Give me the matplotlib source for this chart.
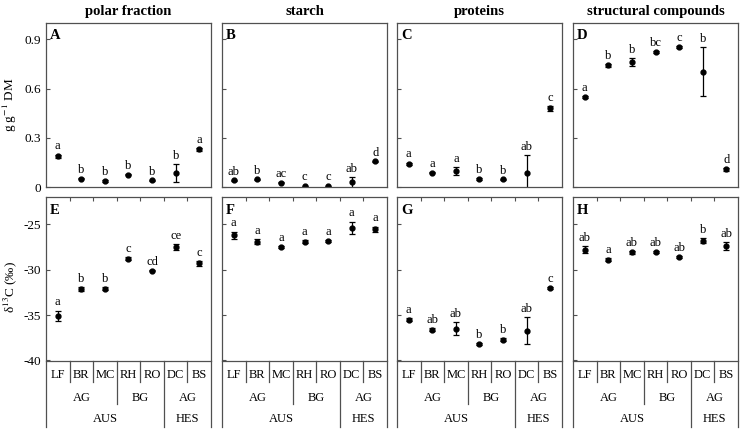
"""Eight panels: concentrations and d13C of compound fractions per organ."""

import matplotlib
matplotlib.use('Agg')
import matplotlib.pyplot as plt

plt.rcParams['font.family'] = ['Liberation Serif', 'DejaVu Serif']
plt.rcParams['mathtext.fontset'] = 'stix'

# organs on the x axis and their grouping rows
organs = ['LF', 'BR', 'MC', 'RH', 'RO', 'DC', 'BS']
row2_labels = ['AG', 'BG', 'AG']
row2_centres = [1, 3.5, 5.5]
row3_labels = ['AUS', 'HES']
row3_centres = [2, 5.5]

titles = ['polar fraction', 'starch', 'proteins', 'structural compounds']
panel_tags = ['A', 'B', 'C', 'D', 'E', 'F', 'G', 'H']

# top row: g g-1 DM
polar_mean = [0.188, 0.051, 0.037, 0.076, 0.041, 0.086, 0.229]
polar_err = [0.010, 0.004, 0.004, 0.005, 0.003, 0.055, 0.008]
polar_let = ['a', 'b', 'b', 'b', 'b', 'b', 'a']

starch_mean = [0.041, 0.047, 0.027, 0.006, 0.006, 0.028, 0.156]
starch_err = [0.004, 0.004, 0.004, 0.003, 0.003, 0.032, 0.004]
starch_let = ['ab', 'b', 'ac', 'c', 'c', 'ab', 'd']

protein_mean = [0.143, 0.088, 0.098, 0.049, 0.047, 0.088, 0.481]
protein_err = [0.006, 0.004, 0.025, 0.004, 0.003, 0.106, 0.015]
protein_let = ['a', 'a', 'a', 'b', 'b', 'ab', 'c']

struct_mean = [0.548, 0.742, 0.761, 0.824, 0.853, 0.702, 0.107]
struct_err = [0.008, 0.008, 0.024, 0.006, 0.006, 0.150, 0.008]
struct_let = ['a', 'b', 'b', 'bc', 'c', 'b', 'd']

# bottom row: d13C (permil)
polar_d13c = [-35.1, -32.1, -32.1, -28.8, -30.1, -27.5, -29.3]
polar_d13c_err = [0.6, 0.2, 0.15, 0.15, 0.1, 0.3, 0.25]
polar_d13c_let = ['a', 'b', 'b', 'c', 'cd', 'ce', 'c']

starch_d13c = [-26.2, -26.9, -27.5, -26.9, -26.8, -25.4, -25.55]
starch_d13c_err = [0.4, 0.3, 0.15, 0.15, 0.1, 0.7, 0.3]
starch_d13c_let = ['a', 'a', 'a', 'a', 'a', 'a', 'a']

protein_d13c = [-35.5, -36.6, -36.5, -38.2, -37.7, -36.7, -32.0]
protein_d13c_err = [0.2, 0.15, 0.7, 0.1, 0.15, 1.5, 0.1]
protein_d13c_let = ['a', 'ab', 'ab', 'b', 'b', 'ab', 'c']

struct_d13c = [-27.8, -28.9, -28.1, -28.1, -28.6, -26.8, -27.4]
struct_d13c_err = [0.4, 0.2, 0.15, 0.1, 0.15, 0.3, 0.4]
struct_d13c_let = ['ab', 'a', 'ab', 'ab', 'ab', 'b', 'ab']

top_data = [(polar_mean, polar_err, polar_let),
            (starch_mean, starch_err, starch_let),
            (protein_mean, protein_err, protein_let),
            (struct_mean, struct_err, struct_let)]
bottom_data = [(polar_d13c, polar_d13c_err, polar_d13c_let),
               (starch_d13c, starch_d13c_err, starch_d13c_let),
               (protein_d13c, protein_d13c_err, protein_d13c_let),
               (struct_d13c, struct_d13c_err, struct_d13c_let)]

EDGE = '#505050'
lefts = [46, 222, 397, 573]


def draw_points(ax, means, errs, letters):
    """Dots with error bars and significance letters above them."""
    xs = range(len(organs))
    ax.errorbar(xs, means, yerr=errs, fmt='o', color='black', ms=3.5,
                elinewidth=0.9, capsize=2.2, capthick=0.9)
    for x, m, e, lab in zip(xs, means, errs, letters):
        ax.annotate(lab, (x, m + e), xytext=(0, 1.5), textcoords='offset points',
                    ha='center', va='bottom', fontsize=9)


def style_axes(ax):
    for sp in ax.spines.values():
        sp.set_color(EDGE)
        sp.set_linewidth(0.9)
    ax.set_xlim(-0.5, 6.5)
    ax.tick_params(axis='y', direction='in', length=3, color=EDGE, labelsize=9.5)


def draw_table(ax):
    """Organ / position / species labels under the bottom panels."""
    tr = ax.get_xaxis_transform()
    kw = dict(transform=tr, clip_on=False, color=EDGE, lw=0.9)
    for b in [0.5, 1.5, 3.5, 5.5]:
        ax.plot([b, b], [0, -0.132], **kw)
    ax.plot([2.5, 2.5], [0, -0.266], **kw)
    for b in [-0.5, 4.5, 6.5]:
        ax.plot([b, b], [0, -0.407], **kw)
    for i, name in enumerate(organs):
        ax.text(i, -0.089, name, transform=tr, ha='center', va='center', fontsize=9)
    for c, name in zip(row2_centres, row2_labels):
        ax.text(c, -0.228, name, transform=tr, ha='center', va='center', fontsize=9)
    for c, name in zip(row3_centres, row3_labels):
        ax.text(c, -0.358, name, transform=tr, ha='center', va='center', fontsize=9)


fig = plt.figure(figsize=(7.4, 4.3), dpi=100)

for col in range(4):
    left = lefts[col] / 740
    width = 165 / 740

    # top row
    ax = fig.add_axes([left, 1 - 187 / 430, width, 164 / 430])
    style_axes(ax)
    means, errs, letters = top_data[col]
    draw_points(ax, means, errs, letters)
    ax.set_ylim(0, 1.0)
    ax.set_yticks([0, 0.3, 0.6, 0.9])
    ax.set_xticks([])
    ax.set_title(titles[col], fontsize=10.5, fontweight='bold', pad=6)
    ax.text(0.025, 0.925, panel_tags[col], transform=ax.transAxes,
            fontsize=10.5, fontweight='bold', va='center')
    if col == 0:
        ax.set_yticklabels(['0', '0.3', '0.6', '0.9'])
        ax.set_ylabel('g g$^{-1}$ DM', fontsize=9.5)
        ax.yaxis.set_label_coords(-0.165, 0.5)
    else:
        ax.set_yticklabels([])

    # bottom row
    ax = fig.add_axes([left, 1 - 360.5 / 430, width, 163.5 / 430])
    style_axes(ax)
    means, errs, letters = bottom_data[col]
    draw_points(ax, means, errs, letters)
    ax.set_ylim(-40, -22)
    ax.set_yticks([-40, -35, -30, -25])
    ax.xaxis.tick_top()
    ax.set_xticks([0.5, 1.5, 2.5, 3.5, 4.5, 5.5])
    ax.tick_params(axis='x', direction='in', length=3, color=EDGE,
                   labeltop=False, labelbottom=False)
    ax.text(0.025, 0.92, panel_tags[col + 4], transform=ax.transAxes,
            fontsize=10.5, fontweight='bold', va='center')
    if col == 0:
        ax.set_yticklabels(['-40', '-35', '-30', '-25'])
        ax.set_ylabel('δ$^{13}$C (‰)', fontsize=9.5)
        ax.yaxis.set_label_coords(-0.165, 0.45)
    else:
        ax.set_yticklabels([])
    draw_table(ax)

fig.savefig('out.png', dpi=100)
